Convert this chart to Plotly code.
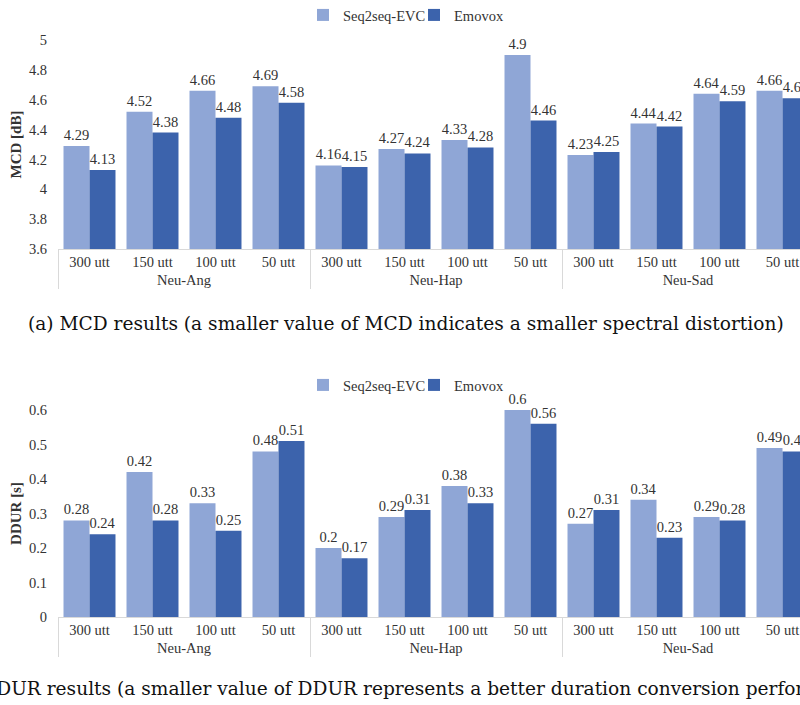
import plotly.graph_objects as go

groups = ["Neu-Ang"] * 4 + ["Neu-Hap"] * 4 + ["Neu-Sad"] * 4
sizes = ["300 utt", "150 utt", "100 utt", "50 utt"] * 3

mcd_seq = [4.29, 4.52, 4.66, 4.69, 4.16, 4.27, 4.33, 4.9, 4.23, 4.44, 4.64, 4.66]
mcd_emo = [4.13, 4.38, 4.48, 4.58, 4.15, 4.24, 4.28, 4.46, 4.25, 4.42, 4.59, 4.61]
ddur_seq = [0.28, 0.42, 0.33, 0.48, 0.2, 0.29, 0.38, 0.6, 0.27, 0.34, 0.29, 0.49]
ddur_emo = [0.24, 0.28, 0.25, 0.51, 0.17, 0.31, 0.33, 0.56, 0.31, 0.23, 0.28, 0.48]

series_names = ["Seq2seq-EVC", "Emovox"]
colors = ["#8FA6D6", "#3C63AC"]

caption_a = "(a) MCD results (a smaller value of MCD indicates a smaller spectral distortion)"
caption_b = "(b) DDUR results (a smaller value of DDUR represents a better duration conversion performance)"

FONT = "Times New Roman, Liberation Serif, serif"
CAPFONT = "DejaVu Serif, serif"
FS = 14.5
TXT = "#333333"
W, H = 800, 705
L = 58

def px_y(p):
    return 1 - p / H

def px_x(p):
    return (p - L) / (W - L)

fig = go.Figure()
x = [groups, sizes]

for vals_list, xa, ya, leg in [((mcd_seq, mcd_emo), "x", "y", "legend"),
                               ((ddur_seq, ddur_emo), "x2", "y2", "legend2")]:
    for name, vals, col in zip(series_names, vals_list, colors):
        fig.add_trace(go.Bar(
            x=x, y=vals, name=name, marker=dict(color=col, line=dict(width=0)),
            text=[str(v) for v in vals], textposition="outside",
            textfont=dict(family=FONT, size=FS, color=TXT),
            constraintext="none", cliponaxis=False,
            xaxis=xa, yaxis=ya, legend=leg,
        ))

xr_end = -0.5 + (W - L) / 63.0

xaxis_common = dict(
    type="multicategory", range=[-0.5, xr_end], showline=True, linecolor="#d9d9d9",
    linewidth=1, showgrid=False, ticks="outside", ticklen=7, tickcolor="rgba(0,0,0,0)",
    showdividers=True, dividercolor="#d9d9d9", dividerwidth=1, automargin=False,
    tickfont=dict(family=FONT, size=FS, color=TXT), zeroline=False,
)
yaxis_common = dict(showgrid=False, zeroline=False, showline=False, ticks="",
                    ticklabelstandoff=10, automargin=False,
                    tickfont=dict(family=FONT, size=FS, color=TXT))

fig.update_layout(
    width=W, height=H, margin=dict(l=L, r=0, t=0, b=0, autoexpand=False),
    paper_bgcolor="white", plot_bgcolor="white",
    barmode="group", bargap=0.175, bargroupgap=0,
    font=dict(family=FONT, color=TXT),
    xaxis=dict(xaxis_common, domain=[0, 1], anchor="y"),
    xaxis2=dict(xaxis_common, domain=[0, 1], anchor="y2"),
    yaxis=dict(yaxis_common, domain=[px_y(249), px_y(40)], range=[3.6, 5.0], dtick=0.2,
               tickformat=".1~f",
               title=dict(text="<b>MCD [dB]</b>", font=dict(family=FONT, size=15, color=TXT), standoff=3)),
    yaxis2=dict(yaxis_common, domain=[px_y(617), px_y(410)], range=[0, 0.6], dtick=0.1,
                tickformat=".1~f",
                title=dict(text="<b>DDUR [s]</b>", font=dict(family=FONT, size=15, color=TXT), standoff=3)),
    legend=dict(orientation="h", x=px_x(414), xanchor="center", y=px_y(15), yanchor="middle",
                font=dict(family=FONT, size=FS, color=TXT), traceorder="normal",
                bgcolor="rgba(0,0,0,0)", entrywidth=66, entrywidthmode="pixels"),
    legend2=dict(orientation="h", x=px_x(414), xanchor="center", y=px_y(385), yanchor="middle",
                 font=dict(family=FONT, size=FS, color=TXT), traceorder="normal",
                 bgcolor="rgba(0,0,0,0)", entrywidth=66, entrywidthmode="pixels"),
    showlegend=True,
)

fig.add_annotation(text=caption_a, xref="paper", yref="paper", x=px_x(406), xanchor="center",
                   y=px_y(323), yanchor="middle", showarrow=False,
                   font=dict(family=CAPFONT, size=18.6, color="#111111"))
fig.add_annotation(text=caption_b, xref="paper", yref="paper", x=px_x(-53), xanchor="left",
                   y=px_y(688), yanchor="middle", showarrow=False,
                   font=dict(family=CAPFONT, size=18.6, color="#111111"))

fig.write_html("out.html", config={"displayModeBar": False},
               post_script="document.body.style.margin='0';document.body.style.overflow='hidden';"
                           "document.documentElement.style.overflow='hidden';")
